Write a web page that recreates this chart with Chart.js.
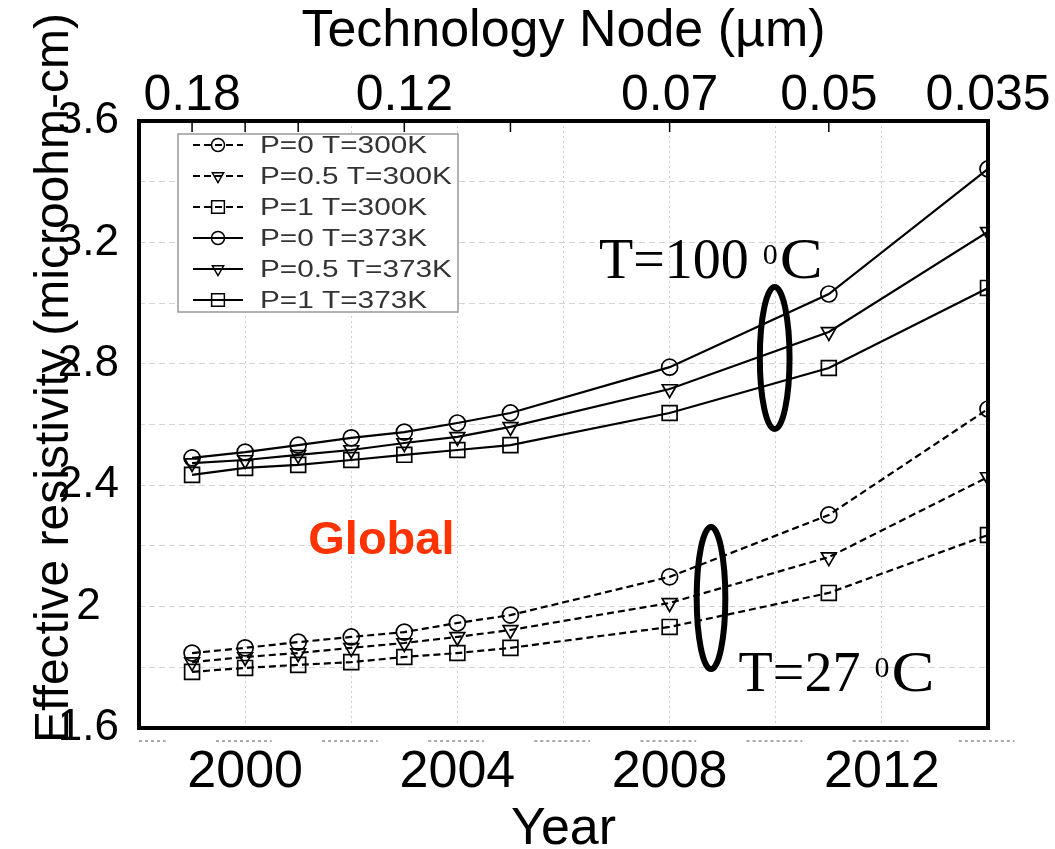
<!DOCTYPE html>
<html>
<head>
<meta charset="utf-8">
<script src="https://cdn.jsdelivr.net/npm/chart.js@4.4.1/dist/chart.umd.min.js"></script>
<style>
  html, body { margin: 0; padding: 0; background: #fff; }
  #wrap { width: 1055px; height: 849px; }
</style>
</head>
<body>
<div id="wrap"><canvas id="grafico" width="1055" height="849"></canvas></div>
<script>
// anos dos pontos medidos
const years = [1999, 2000, 2001, 2002, 2003, 2004, 2005, 2008, 2011, 2014]

// resistividade efetiva (microohm-cm)
const rhoP0T300 = [1.847, 1.864, 1.883, 1.900, 1.916, 1.946, 1.972, 2.098, 2.302, 2.651]
const rhoP05T300 = [1.817, 1.834, 1.847, 1.864, 1.880, 1.900, 1.923, 2.012, 2.163, 2.427]
const rhoP1T300 = [1.785, 1.798, 1.808, 1.817, 1.834, 1.847, 1.864, 1.933, 2.045, 2.236]
const rhoP0T373 = [2.490, 2.509, 2.532, 2.556, 2.575, 2.605, 2.638, 2.789, 3.030, 3.442]
const rhoP05T373 = [2.473, 2.483, 2.500, 2.516, 2.539, 2.559, 2.592, 2.717, 2.905, 3.235]
const rhoP1T373 = [2.434, 2.457, 2.467, 2.483, 2.500, 2.516, 2.532, 2.638, 2.786, 3.050]

const seriesLabels = ['P=0 T=300K', 'P=0.5 T=300K', 'P=1 T=300K', 'P=0 T=373K', 'P=0.5 T=373K', 'P=1 T=373K']

// ticks
const yearTicks = [2000, 2004, 2008, 2012]
const rhoTicks = [1.6, 2, 2.4, 2.8, 3.2, 3.6]
const topTickYears = [1999, 2000, 2001, 2003, 2005, 2008, 2011, 2014]
const nodeYears = [1999, 2003, 2008, 2011, 2014]
const nodeLabels = ['0.18', '0.12', '0.07', '0.05', '0.035']

const SANS = '"Liberation Sans", Arial, sans-serif'
const SERIF = '"Liberation Serif", "Times New Roman", serif'

function pontos(valores) {
    return years.map((ano, i) => ({ x: ano, y: valores[i] }))
}

function serie(label, valores, estilo, rot, raio, tracejado) {
    return {
        label: label,
        data: pontos(valores),
        borderColor: '#000',
        borderWidth: 2.2,
        borderDash: tracejado ? [7, 4] : [],
        pointStyle: estilo,
        pointRotation: rot,
        pointRadius: raio,
        pointBorderWidth: 1.7,
        pointBorderColor: '#000',
        pointBackgroundColor: 'rgba(0,0,0,0)',
        fill: false,
        tension: 0
    }
}

const datasets = [
    serie(seriesLabels[0], rhoP0T300, 'circle', 0, 8, true),
    serie(seriesLabels[1], rhoP05T300, 'triangle', 180, 8.5, true),
    serie(seriesLabels[2], rhoP1T300, 'rect', 0, 10.5, true),
    serie(seriesLabels[3], rhoP0T373, 'circle', 0, 8, false),
    serie(seriesLabels[4], rhoP05T373, 'triangle', 180, 8.5, false),
    serie(seriesLabels[5], rhoP1T373, 'rect', 0, 10.5, false)
]

function marcador(ctx, ds, x, y, raio) {
    ctx.save()
    ctx.strokeStyle = '#000'
    ctx.fillStyle = 'rgba(0,0,0,0)'
    ctx.lineWidth = 1.5
    ctx.setLineDash([])
    Chart.helpers.drawPoint(ctx, {
        pointStyle: ds.pointStyle,
        rotation: ds.pointRotation,
        radius: raio,
        borderWidth: 1.5
    }, x, y)
    ctx.restore()
}

function textoTemp(ctx, antes, sup, depois, x, y) {
    ctx.font = '56px ' + SERIF
    ctx.fillText(antes, x, y)
    let px = x + ctx.measureText(antes).width
    ctx.font = '30px ' + SERIF
    ctx.fillText(sup, px, y - 14)
    px += ctx.measureText(sup).width + 2
    ctx.save()
    ctx.font = '56px ' + SERIF
    ctx.translate(px, y)
    ctx.scale(1.15, 1)
    ctx.fillText(depois, 0, 0)
    ctx.restore()
}

function elipse(ctx, xs, ys, ano, valor, rxAnos, ryValor) {
    const cx = xs.getPixelForValue(ano)
    const cy = ys.getPixelForValue(valor)
    const rx = Math.abs(xs.getPixelForValue(ano + rxAnos) - cx)
    const ry = Math.abs(ys.getPixelForValue(valor + ryValor) - cy)
    ctx.beginPath()
    ctx.ellipse(cx, cy, rx, ry, 0, 0, Math.PI * 2)
    ctx.stroke()
}

const extrasPlugin = {
    id: 'extras',
    afterDatasetsDraw(chart) {
        const { ctx, chartArea: a, scales } = chart
        const xs = scales.x, ys = scales.y
        ctx.save()

        // pontilhado claro abaixo do eixo
        ctx.strokeStyle = '#aaa'
        ctx.lineWidth = 2
        ctx.setLineDash([3, 3])
        for (let ano = 1998; ano <= 2014; ano += 2) {
            ctx.beginPath()
            ctx.moveTo(Math.max(a.left, xs.getPixelForValue(ano - 0.55)), a.bottom + 13)
            ctx.lineTo(Math.min(a.right + 30, xs.getPixelForValue(ano + 0.5)), a.bottom + 13)
            ctx.stroke()
        }
        ctx.setLineDash([])

        // ticks internos do eixo superior
        ctx.strokeStyle = '#000'
        ctx.lineWidth = 1.5
        topTickYears.forEach(ano => {
            const px = xs.getPixelForValue(ano)
            ctx.beginPath()
            ctx.moveTo(px, a.top)
            ctx.lineTo(px, a.top + 11)
            ctx.stroke()
        })

        // moldura
        ctx.lineWidth = 4
        ctx.strokeRect(a.left, a.top, a.right - a.left, a.bottom - a.top)

        // legenda
        const lx = a.left + 39, ly = a.top + 13
        ctx.fillStyle = '#fff'
        ctx.fillRect(lx, ly, 280, 178)
        ctx.strokeStyle = '#999'
        ctx.lineWidth = 1.5
        ctx.strokeRect(lx, ly, 280, 178)
        datasets.forEach((ds, i) => {
            const cy = ly + 11 + i * 31
            ctx.strokeStyle = '#000'
            ctx.lineWidth = 2
            ctx.setLineDash(ds.borderDash)
            ctx.beginPath()
            ctx.moveTo(lx + 15, cy)
            ctx.lineTo(lx + 65, cy)
            ctx.stroke()
            ctx.setLineDash([])
            marcador(ctx, ds, lx + 40, cy, ds.pointStyle === 'rect' ? 9 : 6.5)
            ctx.save()
            ctx.fillStyle = '#333'
            ctx.font = '24px ' + SANS
            ctx.textBaseline = 'middle'
            ctx.translate(lx + 82, cy + 1)
            ctx.scale(1.24, 1)
            ctx.fillText(ds.label, 0, 0)
            ctx.restore()
        })

        // anotacoes
        ctx.fillStyle = '#000'
        ctx.textBaseline = 'alphabetic'
        ctx.textAlign = 'left'
        textoTemp(ctx, 'T=100 ', '0', 'C', xs.getPixelForValue(2006.67), ys.getPixelForValue(3.083))
        textoTemp(ctx, 'T=27 ', '0', 'C', xs.getPixelForValue(2009.3), ys.getPixelForValue(1.722))

        ctx.fillStyle = '#ff3300'
        ctx.font = 'bold 47px ' + SANS
        ctx.fillText('Global', xs.getPixelForValue(2001.19), ys.getPixelForValue(2.173))

        ctx.strokeStyle = '#000'
        ctx.lineWidth = 6
        elipse(ctx, xs, ys, 2009.98, 2.819, 0.28, 0.234)
        elipse(ctx, xs, ys, 2008.78, 2.028, 0.27, 0.234)

        // titulo do eixo y
        ctx.save()
        ctx.fillStyle = '#000'
        ctx.font = '48px ' + SANS
        ctx.textAlign = 'center'
        ctx.textBaseline = 'alphabetic'
        ctx.translate(a.left - 71, 378)
        ctx.rotate(-Math.PI / 2)
        ctx.fillText('Effective resistivity (microohm-cm)', 0, 0)
        ctx.restore()

        ctx.restore()
    }
}

const chart = new Chart(document.getElementById('grafico'), {
    type: 'line',
    data: { datasets: datasets },
    plugins: [extrasPlugin],
    options: {
        responsive: false,
        animation: false,
        devicePixelRatio: 1,
        layout: { padding: { left: 0, right: 67, top: 0, bottom: 0 } },
        plugins: {
            legend: { display: false },
            tooltip: { enabled: false }
        },
        scales: {
            x: {
                type: 'linear',
                position: 'bottom',
                min: 1998,
                max: 2014,
                afterFit: s => { s.height = 121 },
                ticks: {
                    stepSize: 2,
                    autoSkip: false,
                    maxRotation: 0,
                    padding: 13,
                    color: '#000',
                    font: { family: SANS, size: 52 },
                    callback: v => yearTicks.includes(v) ? String(v) : ''
                },
                grid: { color: '#cfcfcf', lineWidth: 1, drawTicks: false },
                border: { display: false, dash: [2, 3] },
                title: {
                    display: true,
                    text: 'Year',
                    color: '#000',
                    font: { family: SANS, size: 52, lineHeight: 1 },
                    padding: { top: 0, bottom: -7 }
                }
            },
            x2: {
                type: 'linear',
                position: 'top',
                min: 1998,
                max: 2014,
                afterFit: s => { s.height = 121 },
                afterBuildTicks: s => { s.ticks = nodeYears.map(v => ({ value: v })) },
                ticks: {
                    autoSkip: false,
                    maxRotation: 0,
                    padding: 0,
                    color: '#000',
                    font: { family: SANS, size: 50, lineHeight: 1 },
                    callback: v => nodeLabels[nodeYears.indexOf(v)]
                },
                grid: { display: false, drawTicks: false },
                border: { display: false },
                title: {
                    display: true,
                    text: 'Technology Node (\u00b5m)',
                    color: '#000',
                    font: { family: SANS, size: 52, lineHeight: 1 },
                    padding: { top: 6, bottom: 0 }
                }
            },
            y: {
                type: 'linear',
                min: 1.6,
                max: 3.6,
                afterFit: s => { s.width = 139 },
                ticks: {
                    stepSize: 0.2,
                    autoSkip: false,
                    crossAlign: 'center',
                    padding: 20,
                    color: '#000',
                    font: { family: SANS, size: 44 },
                    callback: v => {
                        const r = rhoTicks.find(t => Math.abs(t - v) < 1e-6)
                        return r === undefined ? '' : String(r)
                    }
                },
                grid: { color: '#d4d4d4', lineWidth: 1, drawTicks: false },
                border: { display: false, dash: [6, 4] }
            }
        }
    }
})
</script>
</body>
</html>
